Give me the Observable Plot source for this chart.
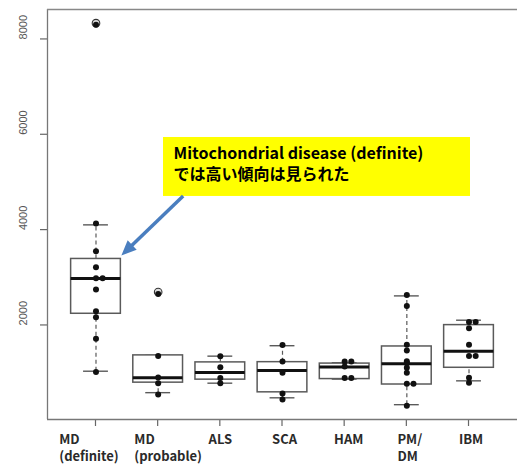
<!DOCTYPE html>
<html>
<head>
<meta charset="utf-8">
<script src="https://cdn.jsdelivr.net/npm/d3@7"></script>
<script src="https://cdn.jsdelivr.net/npm/@observablehq/plot@0.6"></script>
<style>
  html, body { margin: 0; padding: 0; background: #fff; overflow: hidden; }
</style>
</head>
<body>
<div id="chart"></div>
<script>
// ---- data ----
const groupNames = ["MD\n(definite)", "MD\n(probable)", "ALS", "SCA", "HAM", "PM/\nDM", "IBM"];
const loWhisker  = [1040,  590,  789,  482,  875,  338,  838];
const lowerHinge = [2245,  800,  863,  597,  875,  761, 1112];
const medians    = [2985,  905, 1012, 1055, 1130, 1196, 1457];
const upperHinge = [3395, 1372, 1225, 1230, 1200, 1559, 2007];
const hiWhisker  = [4110, 1372, 1356, 1575, 1217, 2620, 2110];

const outlierGroup = [1, 2];
const outlierValue = [8310, 2670];

const mdDefinite = [8310, 4140, 3555, 3222, 2990, 2990, 2754, 2299, 2173, 1720, 1025];
const mdProbable = [2660, 1360, 910, 785, 550];
const als        = [1356, 1124, 898, 785];
const sca        = [1590, 1244, 1010, 575, 445];
const ham        = [1244, 1244, 1139, 898, 898];
const pmdm       = [2638, 2408, 1594, 1475, 1250, 1205, 1115, 1007, 776, 776, 315];
const ibm        = [2070, 2070, 1943, 1594, 1360, 1360, 905, 800];
const groupValues = [mdDefinite, mdProbable, als, sca, ham, pmdm, ibm];

const yTicks = [2000, 4000, 6000, 8000];

const noteLines = ["Mitochondrial disease (definite)", "では高い傾向は見られた"];
const noteBox = {x1: 2.086, x2: 7.024, y1: 4706, y2: 5943};
const arrowFrom = [2.41, 4705];

// label horizontal nudges (style, px) to mimic the hand-placed labels
const labelNudge = [-7, 10, 0, 2, 4, 3, 2];

// ---- derived tables ----
const boxHalf = 0.4, capHalf = 0.2, stackStep = 0.107;
const xTicks = groupNames.map((_, k) => k + 1);
const boxes = groupNames.map((name, k) => ({
  i: k + 1, lo: loWhisker[k], q1: lowerHinge[k], med: medians[k], q3: upperHinge[k], hi: hiWhisker[k]
}));
const points = [];
groupValues.forEach((vals, k) => {
  const seen = new Map();
  vals.forEach(v => {
    const n = seen.get(v) || 0;
    seen.set(v, n + 1);
    points.push({g: k + 1 + n * stackStep, v});
  });
});
const outliers = outlierGroup.map((g, k) => ({g, v: outlierValue[k]}));

const W = 517, H = 464;
const xDomain = [0.22, 7.78];
const yDomain = [27, 8628];
const gray = "#5a5a5a";
const labelFont = "'Noto Sans CJK JP', 'Noto Sans', sans-serif";
const labelSize = 13;

const ctx = document.createElement("canvas").getContext("2d");
ctx.font = `600 ${labelSize}px ${labelFont}`;

const labelMarks = groupNames.map((name, k) => {
  const lines = name.split("\n");
  const multi = lines.length > 1;
  const w = Math.max(...lines.map(l => ctx.measureText(l).width));
  return Plot.text([k + 1], {
    x: d => d, frameAnchor: "bottom", text: () => name,
    textAnchor: multi ? "start" : "middle",
    dx: (multi ? -w / 2 : 0) + labelNudge[k], dy: 11.5, lineAnchor: "top", lineHeight: 1.36,
    fontSize: labelSize, fontWeight: 600, fontFamily: labelFont, fill: "#2a2a2a"
  });
});

// tick marks drawn outside the frame, positioned with the plot's scales
const tickLen = 7;
const tickMark = (index, scales) => {
  const g = d3.create("svg:g").attr("stroke", "#666").attr("stroke-width", 1.2);
  const yb = scales.y(yDomain[0]);
  const xl = scales.x(xDomain[0]);
  for (const t of xTicks) {
    const x = scales.x(t);
    g.append("line").attr("x1", x).attr("x2", x).attr("y1", yb).attr("y2", yb + tickLen);
  }
  for (const t of yTicks) {
    const y = scales.y(t);
    g.append("line").attr("x1", xl - tickLen).attr("x2", xl).attr("y1", y).attr("y2", y);
  }
  return g.node();
};

const arrowColor = "#4a7ebf";
const arrowMark = (index, scales) => {
  const x0 = scales.x(arrowFrom[0]), y0 = scales.y(arrowFrom[1]);
  const x1 = scales.x(1 + boxHalf) + 1, y1 = scales.y(upperHinge[0]) - 3;
  const ang = Math.atan2(y1 - y0, x1 - x0);
  const L = 15, HW = 6.5;
  const bx = x1 - L * Math.cos(ang), by = y1 - L * Math.sin(ang);
  const px = -Math.sin(ang) * HW, py = Math.cos(ang) * HW;
  const g = d3.create("svg:g");
  g.append("line").attr("x1", x0).attr("y1", y0).attr("x2", bx + Math.cos(ang) * 2).attr("y2", by + Math.sin(ang) * 2)
    .attr("stroke", arrowColor).attr("stroke-width", 3.5);
  g.append("path").attr("d", `M${x1},${y1}L${bx + px},${by + py}L${bx - px},${by - py}Z`).attr("fill", arrowColor);
  return g.node();
};

const chart = Plot.plot({
  width: W, height: H,
  marginLeft: 47, marginRight: 0, marginTop: 9, marginBottom: 45,
  style: {background: "white", color: gray, overflow: "visible"},
  x: {type: "linear", domain: xDomain, label: null, axis: null},
  y: {domain: yDomain, label: null, axis: null},
  marks: [
    tickMark,
    // frame (left, top, bottom)
    Plot.ruleX([xDomain[0]], {stroke: "#777", strokeWidth: 1.3}),
    Plot.ruleY([yDomain[1]], {stroke: "#888", strokeWidth: 1.3}),
    Plot.ruleY([yDomain[0]], {stroke: "#777", strokeWidth: 1.3}),
    // whiskers
    Plot.ruleX(boxes, {x: "i", y1: "q3", y2: "hi", stroke: gray, strokeWidth: 1.2, strokeDasharray: "4,3"}),
    Plot.ruleX(boxes, {x: "i", y1: "lo", y2: "q1", stroke: gray, strokeWidth: 1.2, strokeDasharray: "4,3"}),
    // caps
    Plot.ruleY(boxes, {y: "hi", x1: d => d.i - capHalf, x2: d => d.i + capHalf, stroke: gray, strokeWidth: 1.4}),
    Plot.ruleY(boxes, {y: "lo", x1: d => d.i - capHalf, x2: d => d.i + capHalf, stroke: gray, strokeWidth: 1.4}),
    // boxes
    Plot.rect(boxes, {x1: d => d.i - boxHalf, x2: d => d.i + boxHalf, y1: "q1", y2: "q3", fill: "white", stroke: gray, strokeWidth: 1.5}),
    Plot.ruleY(boxes, {y: "med", x1: d => d.i - boxHalf, x2: d => d.i + boxHalf, stroke: "#111", strokeWidth: 3}),
    // outliers (open circles)
    Plot.dot(outliers, {x: "g", y: "v", r: 3.8, stroke: "#333", strokeWidth: 1.1, fill: "#ddd", dy: -1.5}),
    // data points
    Plot.dot(points, {x: "g", y: "v", r: 3, fill: "#111", stroke: "none"}),
    // y tick labels (rotated)
    Plot.text(yTicks, {y: d => d, text: d => String(d), frameAnchor: "left", dx: -24, rotate: -90,
      fontSize: 11, fontFamily: "'Liberation Sans', Arial, sans-serif", fill: "#555"}),
    // x labels
    ...labelMarks,
    // annotation
    Plot.rect([noteBox], {x1: "x1", x2: "x2", y1: "y1", y2: "y2", fill: "#ffff00"}),
    Plot.text([noteLines[0]], {x: () => noteBox.x1, y: () => noteBox.y2, text: d => d, textAnchor: "start", lineAnchor: "top",
      dx: 10, dy: 10.5, fontSize: 16, fontWeight: "bold", fontFamily: "'Noto Sans CJK JP', sans-serif", fill: "#000", ariaLabel: "note-line1"}),
    Plot.text([noteLines[1]], {x: () => noteBox.x1, y: () => noteBox.y2, text: d => d, textAnchor: "start", lineAnchor: "top",
      dx: 10, dy: 31, fontSize: 16, fontWeight: "bold", fontFamily: "'Noto Sans CJK JP', sans-serif", fill: "#000", ariaLabel: "note-line2"}),
    arrowMark
  ]
});

const t1 = chart.querySelector('g[aria-label="note-line1"] text');
if (t1) { t1.setAttribute("textLength", 289); t1.setAttribute("lengthAdjust", "spacingAndGlyphs"); }
const t2 = chart.querySelector('g[aria-label="note-line2"] text');
if (t2) { t2.setAttribute("textLength", 234); t2.setAttribute("lengthAdjust", "spacingAndGlyphs"); }

document.getElementById("chart").appendChild(chart);
</script>
</body>
</html>
